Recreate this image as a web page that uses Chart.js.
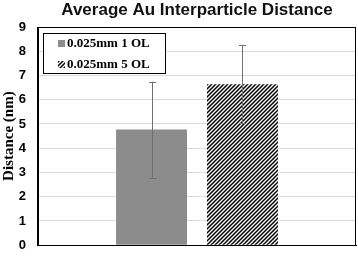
<!DOCTYPE html>
<html>
<head>
<meta charset="utf-8">
<script src="https://cdn.jsdelivr.net/npm/chart.js@4.4.0/dist/chart.umd.min.js"></script>
<style>
  html, body { margin: 0; padding: 0; background: #fff; }
  #wrap { width: 358px; height: 265px; }
</style>
</head>
<body>
<div id="wrap"><canvas id="c" width="358" height="265"></canvas></div>
<script>
// chart values
const categories = [''];
const seriesLabels = ['0.025mm 1 OL', '0.025mm 5 OL'];
const means = [4.77, 6.64];
const errors = [1.98, 1.61];
const yTicks = [0, 1, 2, 3, 4, 5, 6, 7, 8, 9];

// diagonal hatch like the excel pattern fill
function makeHatch() {
  const p = document.createElement('canvas');
  p.width = 4; p.height = 4;
  const g = p.getContext('2d');
  g.fillStyle = '#fff';
  g.fillRect(0, 0, 4, 4);
  g.strokeStyle = '#000';
  g.lineWidth = 1.5;
  g.beginPath();
  g.moveTo(0, 4); g.lineTo(4, 0);
  g.moveTo(-1, 1); g.lineTo(1, -1);
  g.moveTo(3, 5); g.lineTo(5, 3);
  g.stroke();
  return g.createPattern(p, 'repeat');
}
const hatch = makeHatch();
const fills = ['#8c8c8c', hatch];

const errorBars = {
  id: 'errorBars',
  afterDatasetsDraw(chart) {
    const ctx = chart.ctx;
    const y = chart.scales.y;
    ctx.save();
    ctx.strokeStyle = '#707070';
    ctx.lineWidth = 1;
    chart.data.datasets.forEach((ds, i) => {
      const bar = chart.getDatasetMeta(i).data[0];
      const x = Math.round(bar.x) + 0.5;
      const top = y.getPixelForValue(means[i] + errors[i]);
      const bot = y.getPixelForValue(means[i] - errors[i]);
      ctx.beginPath();
      ctx.moveTo(x, top); ctx.lineTo(x, bot);
      ctx.moveTo(x - 3.5, Math.round(top) + 0.5); ctx.lineTo(x + 3.5, Math.round(top) + 0.5);
      ctx.moveTo(x - 3.5, Math.round(bot) + 0.5); ctx.lineTo(x + 3.5, Math.round(bot) + 0.5);
      ctx.stroke();
    });
    ctx.restore();
  }
};

const frameAndLegend = {
  id: 'frameAndLegend',
  afterDraw(chart) {
    const ctx = chart.ctx;
    const a = chart.chartArea;
    ctx.save();
    // plot frame
    ctx.strokeStyle = '#000';
    ctx.lineWidth = 1;
    ctx.strokeRect(Math.round(a.left) + 0.5, Math.round(a.top) + 0.5,
                   Math.round(a.right - a.left) - 1, Math.round(a.bottom - a.top));
    ctx.beginPath();
    ctx.moveTo(Math.round(a.left) - 0.5, a.top);
    ctx.lineTo(Math.round(a.left) - 0.5, a.bottom + 1);
    ctx.stroke();

    // legend box inside the plot
    const lx = a.left + 5, ly = a.top + 6, lw = 122, lh = 40;
    ctx.fillStyle = '#fff';
    ctx.fillRect(lx, ly, lw, lh);
    ctx.strokeRect(Math.round(lx) + 0.5, Math.round(ly) + 0.5, lw, lh);
    ctx.font = 'bold 13px "Liberation Serif", "Times New Roman", serif';
    ctx.textBaseline = 'middle';
    chart.data.datasets.forEach((ds, i) => {
      const cy = ly + 10.5 + i * 20.5;
      ctx.fillStyle = fills[i];
      ctx.fillRect(lx + 15, Math.round(cy - 3.5), 7, 7);
      ctx.fillStyle = '#000';
      ctx.fillText(ds.label, lx + 24, cy + 0.5);
    });
    ctx.restore();
  }
};

new Chart(document.getElementById('c'), {
  type: 'bar',
  data: {
    labels: categories,
    datasets: seriesLabels.map((label, i) => ({
      label: label,
      data: [means[i]],
      backgroundColor: fills[i],
      borderWidth: 0,
      categoryPercentage: 0.572,
      barPercentage: 0.78
    }))
  },
  options: {
    responsive: false,
    animation: false,
    layout: { padding: { left: 0, right: 2, top: 0, bottom: 0 } },
    plugins: {
      legend: { display: false },
      tooltip: { enabled: false },
      title: {
        display: true,
        fullSize: false,
        text: 'Average Au Interparticle Distance',
        color: '#111',
        font: { family: '"Liberation Sans", Arial, sans-serif', size: 17, weight: 'bold' },
        padding: { top: 0, bottom: 6.6 }
      }
    },
    scales: {
      x: {
        grid: { display: false, drawTicks: false },
        border: { display: true, color: '#000', width: 1 },
        ticks: { display: false },
        afterFit(s) { s.height = 7; }
      },
      y: {
        min: 0,
        max: 9,
        afterBuildTicks(s) { s.ticks = yTicks.map(v => ({ value: v })); },
        grid: { color: '#d9d9d9', lineWidth: 1, drawTicks: false },
        border: { display: true, color: '#000', width: 1 },
        ticks: {
          padding: 12,
          color: '#000',
          font: { family: '"Liberation Sans", Arial, sans-serif', size: 13, weight: 'bold' }
        },
        title: {
          display: true,
          text: 'Distance (nm)',
          color: '#000',
          padding: 0,
          font: { family: '"Liberation Serif", "Times New Roman", serif', size: 15, weight: 'bold' }
        },
        afterFit(s) { s.width = 38; }
      }
    }
  },
  plugins: [errorBars, frameAndLegend]
});
</script>
</body>
</html>
